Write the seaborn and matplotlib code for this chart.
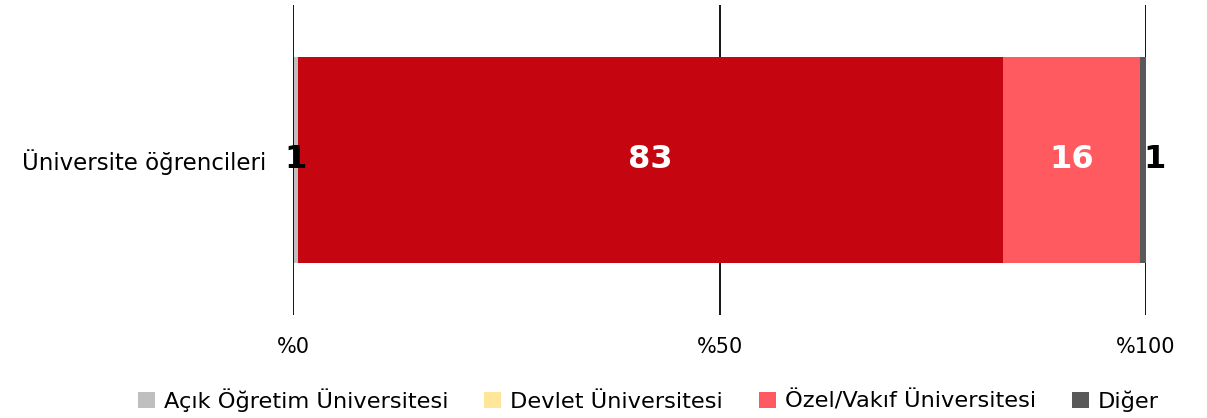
import matplotlib
matplotlib.use("Agg")
import matplotlib.pyplot as plt
from matplotlib.patches import Patch
import numpy as np
import pandas as pd
import seaborn as sns

# Data
category = ["Üniversite öğrencileri"]
series_names = ["Açık Öğretim Üniversitesi", "Devlet Üniversitesi",
                "Özel/Vakıf Üniversitesi", "Diğer"]
values = [0.6, 82.6, 16.1, 0.7]
bar_colors = ["#BFBFBF", "#C5050F", "#FF5A5F", "#595959"]
legend_colors = ["#BFBFBF", "#FFE699", "#FF5A5F", "#595959"]
label_colors = ["black", "white", "white", "black"]
label_shift = [0, 0, 0, 8]  # points; nudges the last small label off the bar edge
tick_values = [0, 50, 100]
tick_labels = ["%0", "%50", "%100"]

sns.set_theme(style="white")
plt.rcParams["font.family"] = ["DejaVu Sans"]
plt.rcParams["text.color"] = "black"
plt.rcParams["xtick.color"] = "black"
plt.rcParams["ytick.color"] = "black"

fig = plt.figure(figsize=(12.07, 4.18), dpi=100)
ax = fig.add_axes([293 / 1207, 1 - 315 / 418, (1146 - 293) / 1207, 310 / 418])

cum = np.cumsum(values)
# draw cumulative layers from the widest down so each segment shows its own share
for i in range(len(values) - 1, -1, -1):
    df = pd.DataFrame({"cat": category, "val": [cum[i]]})
    sns.barplot(data=df, x="val", y="cat", orient="h", color=bar_colors[i],
                width=1.0, saturation=1, ax=ax, linewidth=0, zorder=2)

ax.set_xlim(0, 100)
ax.set_ylim(0.75, -0.75)

for xv in tick_values:
    ax.axvline(xv, color="black", lw=1.3, zorder=5 if xv == 0 else 1)

for i, v in enumerate(values):
    center = cum[i] - v / 2
    ax.annotate(f"{round(v):d}", (center, 0), xytext=(label_shift[i], 0),
                textcoords="offset points", ha="center", va="center",
                fontsize=23, fontweight="bold", color=label_colors[i], zorder=6)

ax.set_xticks(tick_values)
ax.set_xticklabels(tick_labels, fontsize=15)
ax.tick_params(axis="x", length=0, pad=16)
ax.tick_params(axis="y", length=0, pad=19, labelsize=16.5)
ax.set_xlabel("")
ax.set_ylabel("")
for s in ax.spines.values():
    s.set_visible(False)

handles = [Patch(facecolor=c, edgecolor="none") for c in legend_colors]
fig.legend(handles, series_names, loc="center", bbox_to_anchor=(0.537, 1 - 400 / 418),
           ncol=4, frameon=False, fontsize=16.2, handlelength=0.75, handleheight=0.75,
           handletextpad=0.4, columnspacing=1.6, borderaxespad=0, borderpad=0)

fig.savefig("out.png", dpi=100)
